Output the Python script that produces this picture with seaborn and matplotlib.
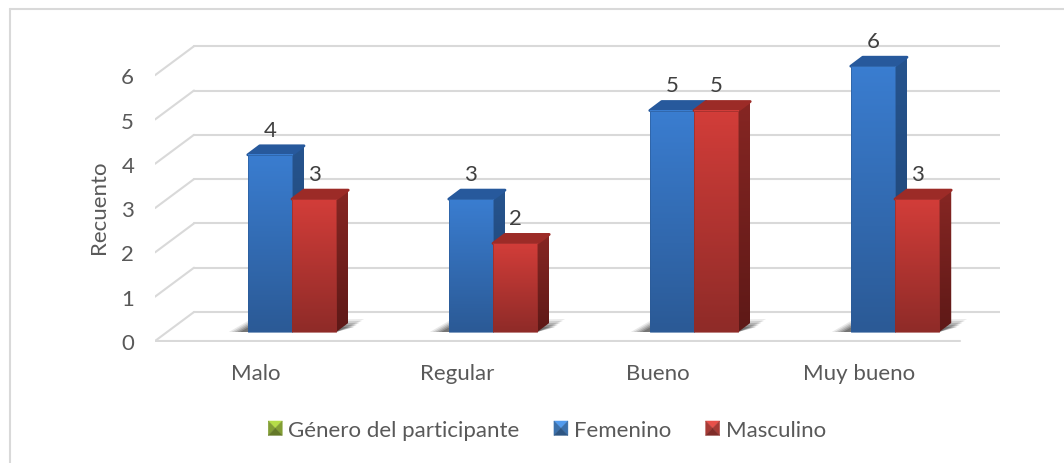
import numpy as np
import pandas as pd
import matplotlib
matplotlib.use('Agg')
import matplotlib.pyplot as plt
from matplotlib.lines import Line2D
from matplotlib.patches import Patch, Polygon, Rectangle
from matplotlib.legend_handler import HandlerBase
from matplotlib.colors import LinearSegmentedColormap
import seaborn as sns

categories = ['Malo', 'Regular', 'Bueno', 'Muy bueno']
femenino = [4, 3, 5, 6]
masculino = [3, 2, 5, 3]
y_ticks = [0, 1, 2, 3, 4, 5, 6]
legend_title = 'Género del participante'
series_names = ['Femenino', 'Masculino']

sns.set_theme(style='white')
plt.rcParams['font.family'] = ['Lato', 'DejaVu Sans']
plt.rcParams['font.size'] = 16

W, H = 1064, 464
PX_X = 201.0    # pixels per category
PX_Y = 44.3     # pixels per count
X0, Y0 = 292, 333   # where category 0 / count 0 fall in the picture

fig = plt.figure(figsize=(W / 100, H / 100), dpi=100)
ax = fig.add_axes([155 / W, 1 - 343 / H, 845 / W, 323 / H])

df = pd.DataFrame({
    'Nivel': categories * 2,
    'Recuento': femenino + masculino,
    'Genero': [series_names[0]] * 4 + [series_names[1]] * 4,
})
colors = {'Femenino': '#3B7DCF', 'Masculino': '#D03C38'}
sns.barplot(data=df, x='Nivel', y='Recuento', hue='Genero', palette=colors,
            width=0.44, gap=0, legend=False, saturation=1, ax=ax)

faces = {
    'Femenino': dict(front=('#3A7DD0', '#2B5A96'), side=('#26548E', '#1E4270'), top='#27599C'),
    'Masculino': dict(front=('#D23D39', '#8F2B28'), side=('#862623', '#5E1917'), top='#9C2B27'),
}

dx = 12 / PX_X
dy = 9 / PX_Y
xlim = ((155 - X0) / PX_X, (1000 - X0) / PX_X)
ylim = ((Y0 - 343) / PX_Y, (Y0 - 20) / PX_Y)

grid_col = '#D9D9D9'
front_off = -9 / PX_Y
back_off = 20 / PX_Y
back_x = (194 - X0) / PX_X
for v in y_ticks:
    ax.plot([xlim[0], back_x], [v + front_off, v + back_off], color=grid_col, lw=1.5, zorder=1)
    ax.plot([back_x, xlim[1]], [v + back_off, v + back_off], color=grid_col, lw=1.5, zorder=1)
ax.plot([xlim[0], (960 - X0) / PX_X], [front_off, front_off], color=grid_col, lw=1.5, zorder=1)


def gradient(c1, c2, extent, zorder, clip=None):
    cmap = LinearSegmentedColormap.from_list('g', [c1, c2])
    im = ax.imshow(np.linspace(0, 1, 64).reshape(-1, 1), cmap=cmap, aspect='auto',
                   extent=extent, zorder=zorder, interpolation='bilinear', vmin=0, vmax=1)
    if clip is not None:
        im.set_clip_path(clip)
    return im


# shadows on the floor, one per group
for i in range(len(categories)):
    left = i - 0.22
    right = i + 0.22
    for k, a in zip([1.0, 0.85, 0.7, 0.55, 0.4], [0.10, 0.14, 0.18, 0.24, 0.30]):
        pts = [(left - k * 19 / PX_X, 0), (left, k * 11 / PX_Y),
               (right + dx + k * 16 / PX_X, k * 13 / PX_Y), (right, 0)]
        ax.add_patch(Polygon(pts, closed=True, fc='#303030', ec='none', alpha=a, zorder=1.5))

# extrude every bar seaborn drew
for cont, name, z in zip(ax.containers, series_names, [2, 3]):
    style = faces[name]
    for bar in cont:
        x = bar.get_x()
        w = bar.get_width()
        h = bar.get_height()
        bar.set_visible(False)
        side = Polygon([(x + w, 0), (x + w + dx, dy), (x + w + dx, h + dy), (x + w, h)],
                       closed=True, fc='none', ec='none', zorder=z)
        ax.add_patch(side)
        gradient(style['side'][0], style['side'][1], (x + w, x + w + dx, 0, h + dy), z, side)
        ax.add_patch(Polygon([(x, h), (x + dx, h + dy), (x + w + dx, h + dy), (x + w, h)],
                             closed=True, fc=style['top'], ec=style['top'], lw=2,
                             joinstyle='round', zorder=z + 0.1))
        gradient(style['front'][0], style['front'][1], (x, x + w, 0, h), z + 0.2)
        ax.add_patch(Rectangle((x, 0), w, h, fc='none', ec=style['front'][1], lw=0.6,
                               alpha=0.7, zorder=z + 0.3))
    for t in ax.bar_label(cont, padding=11, color='#404040', fontsize=16):
        t.set_zorder(6)

ax.set_xlim(xlim)
ax.set_ylim(ylim)
ax.set_xticks(np.arange(len(categories)) - 36 / PX_X, labels=categories)
ax.set_yticks(np.array(y_ticks) + front_off, labels=[str(v) for v in y_ticks])
ax.tick_params(axis='x', length=0, pad=15, labelsize=16, labelcolor='#595959')
ax.tick_params(axis='y', length=0, pad=15, labelsize=16, labelcolor='#595959')
ax.set_xlabel('')
ax.set_ylabel('Recuento', fontsize=16, color='#595959')
ax.yaxis.set_label_coords((109 - 155) / 845, (343 - 207) / 323)
sns.despine(ax=ax, left=True, bottom=True)
ax.patch.set_alpha(0)


class BevelHandler(HandlerBase):
    def create_artists(self, legend, orig, xd, yd, width, height, fontsize, trans):
        c = orig.get_facecolor()
        base = np.array(c[:3])
        x0, y0 = -xd, -yd
        x1, y1 = x0 + width, y0 + height
        mx, my = (x0 + x1) / 2, (y0 + y1) / 2
        tris = [
            ([(x0, y1), (x1, y1), (mx, my)], base),
            ([(x0, y0), (x0, y1), (mx, my)], base * 0.72),
            ([(x1, y0), (x1, y1), (mx, my)], base * 0.72),
            ([(x0, y0), (x1, y0), (mx, my)], base * 0.55),
        ]
        out = []
        for pts, col in tris:
            out.append(Polygon(pts, closed=True, fc=col, ec=col, lw=0.3, transform=trans))
        return out


handles = [Patch(color='#B5DC48'), Patch(color='#529BEE'), Patch(color='#E8504A')]
labels = [legend_title] + series_names
ax.legend(handles, labels, ncol=3, loc='center',
          bbox_to_anchor=(547 / W, 1 - 431 / H), bbox_transform=fig.transFigure,
          frameon=False, fontsize=16, labelcolor='#595959',
          handlelength=0.63, handleheight=0.62, handletextpad=0.27, columnspacing=1.55,
          handler_map={Patch: BevelHandler()})

# the chart border only shows along the top and the left
fig.add_artist(Line2D([10 / W, 1], [1 - 10 / H, 1 - 10 / H], color='#D9D9D9', lw=1.5))
fig.add_artist(Line2D([10 / W, 10 / W], [0, 1 - 10 / H], color='#D9D9D9', lw=1.5))

fig.savefig('out.png', dpi=100)
